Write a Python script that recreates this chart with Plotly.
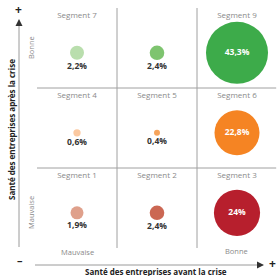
import plotly.graph_objects as go

# Data
segments = ["Segment 1", "Segment 2", "Segment 3",
            "Segment 4", "Segment 5", "Segment 6",
            "Segment 7", "", "Segment 9"]
col_before = [0, 1, 2, 0, 1, 2, 0, 1, 2]   # santé avant la crise (Mauvaise -> Bonne)
row_after = [0, 0, 0, 1, 1, 1, 2, 2, 2]    # santé après la crise (Mauvaise -> Bonne)
values = [1.9, 2.4, 24.0, 0.6, 0.4, 22.8, 2.2, 2.4, 43.3]
value_labels = ["1,9%", "2,4%", "24%", "0,6%", "0,4%", "22,8%", "2,2%", "2,4%", "43,3%"]
colors = ["#dfa08b", "#cb6753", "#b71f2d",
          "#fbc9a1", "#f6a45c", "#f58423",
          "#b9dead", "#7ec46f", "#3dab4a"]
x_ticks = ["Mauvaise", "Bonne"]
y_ticks = ["Mauvaise", "Bonne"]
x_title = "Santé des entreprises avant la crise"
y_title = "Santé des entreprises après la crise"

FONT = "Open Sans"
W, H = 277, 276
L, R, T, B = 37, 0, 8, 28
PW, PH = W - L - R, H - T - B

def px(x):  # pixel -> paper x
    return (x - L) / PW

def py(y):  # pixel -> paper y
    return (H - B - y) / PH

fig = go.Figure()

big = [v > 10 for v in values]
fig.add_trace(go.Scatter(
    x=[c + 0.5 for c in col_before],
    y=[r + 0.44 for r in row_after],
    mode="markers+text",
    marker=dict(size=values, sizemode="area", sizeref=0.0225,
                color=colors, line=dict(width=0), opacity=1),
    text=value_labels,
    textposition=["middle center" if b else "bottom center" for b in big],
    textfont=dict(family=FONT, size=8.5,
                  color=["#ffffff" if b else "#333333" for b in big],
                  weight="bold"),
    hoverinfo="skip", cliponaxis=False,
))

fig.add_trace(go.Scatter(
    x=[c + 0.5 for c in col_before],
    y=[r + 0.9 for r in row_after],
    mode="text",
    text=segments,
    textfont=dict(family=FONT, size=8, color="#8a8a8a"),
    hoverinfo="skip", cliponaxis=False,
))

shapes = []
for v in [1, 2]:
    shapes.append(dict(type="line", xref="x", yref="y", x0=v, x1=v, y0=0, y1=3,
                       line=dict(color="#a0a0a0", width=1)))
    shapes.append(dict(type="line", xref="x", yref="y", x0=0, x1=2.99, y0=v, y1=v,
                       line=dict(color="#a0a0a0", width=1)))
# axis arrow lines
shapes.append(dict(type="line", xref="paper", yref="paper",
                   x0=px(19), x1=px(19), y0=py(247), y1=py(24),
                   line=dict(color="#9a9a9a", width=1)))
shapes.append(dict(type="line", xref="paper", yref="paper",
                   x0=px(35), x1=px(258), y0=py(265), y1=py(265),
                   line=dict(color="#9a9a9a", width=1)))

def label(x, y, text, size, color, angle=0):
    return dict(xref="paper", yref="paper", x=px(x), y=py(y), text=text,
                xanchor="center", yanchor="middle", textangle=angle,
                showarrow=False, font=dict(family=FONT, size=size, color=color))

annotations = [
    # arrowheads
    dict(xref="paper", yref="paper", x=px(19), y=py(19), ax=0, ay=8,
         axref="pixel", ayref="pixel", showarrow=True, arrowhead=2,
         arrowsize=1, arrowwidth=1.4, arrowcolor="#333333", text=""),
    dict(xref="paper", yref="paper", x=px(264), y=py(265), ax=-8, ay=0,
         axref="pixel", ayref="pixel", showarrow=True, arrowhead=2,
         arrowsize=1, arrowwidth=1.4, arrowcolor="#333333", text=""),
    # plus / minus
    label(18.5, 10, "<b>+</b>", 12, "#222222"),
    label(272, 263, "<b>+</b>", 12, "#222222"),
    label(20, 259, "<b>–</b>", 11, "#222222"),
    # axis titles
    label(156, 271, "<b>" + x_title + "</b>", 8, "#222222"),
    label(11, 130, "<b>" + y_title + "</b>", 8, "#222222", -90),
    # tick-like labels
    label(77, 252, x_ticks[0], 7.5, "#8a8a8a"),
    label(236, 251, x_ticks[1], 7.5, "#8a8a8a"),
    label(31, 213, y_ticks[0], 7.5, "#8a8a8a", -90),
    label(31, 48, y_ticks[1], 7.5, "#8a8a8a", -90),
]

fig.update_layout(
    width=W, height=H,
    margin=dict(l=L, r=R, t=T, b=B, pad=0),
    paper_bgcolor="white", plot_bgcolor="white",
    showlegend=False,
    xaxis=dict(range=[0, 3], visible=False, fixedrange=True),
    yaxis=dict(range=[0, 3], visible=False, fixedrange=True),
    shapes=shapes, annotations=annotations,
)

fig.write_html("out.html", config={"displayModeBar": False},
               post_script="document.body.style.margin='0';document.body.style.overflow='hidden';")
